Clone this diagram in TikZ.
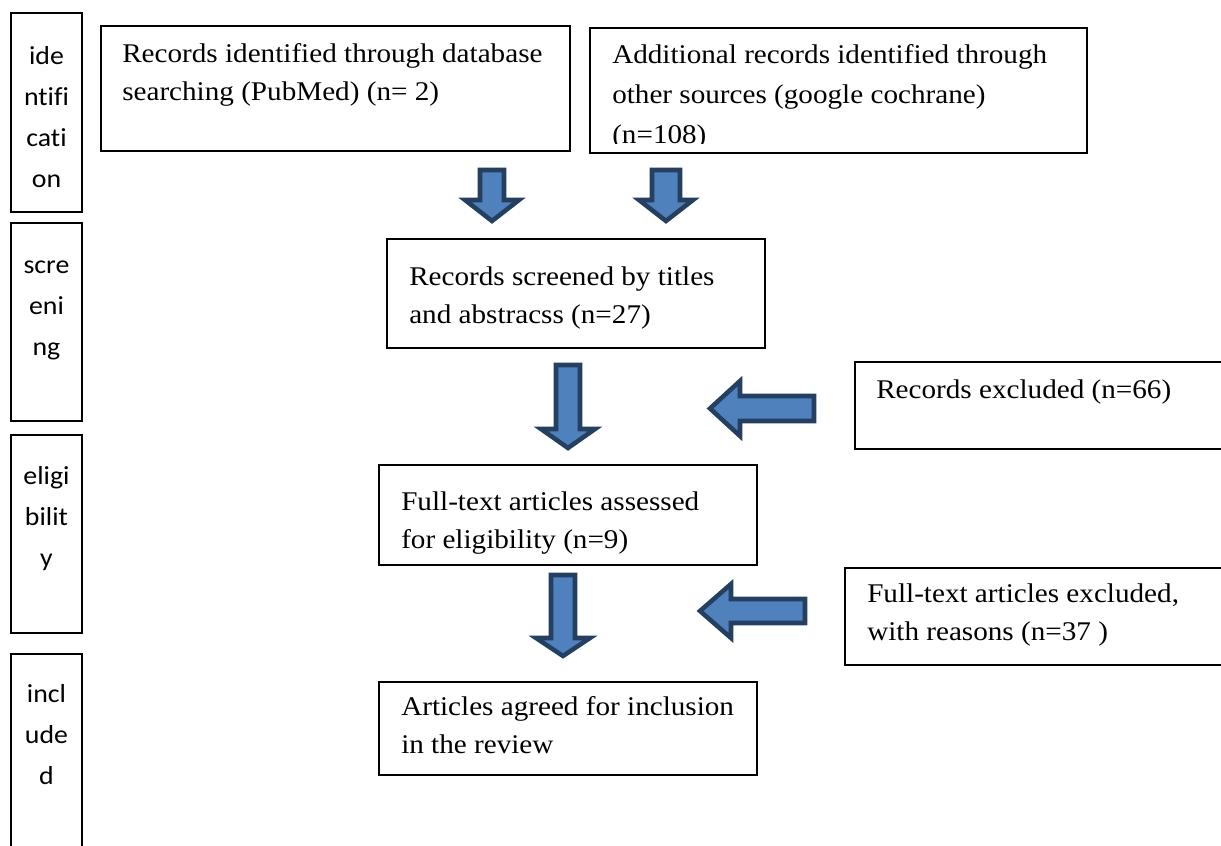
\documentclass[tikz,border=0pt]{standalone}
\usepackage{fontspec}
\setmainfont[FakeStretch=1.08,Ligatures=NoCommon]{Liberation Serif}
\newfontfamily\sidefont[FakeStretch=1.07,Ligatures=NoCommon]{Carlito}
\usetikzlibrary{fit}
\definecolor{arrfill}{HTML}{4F81BD}
\definecolor{arrline}{HTML}{243F60}
\newcommand\fs{\rule{0pt}{18pt}}
\newcommand\dblk[6]{\draw[blockarrow] (#1-#5,#2) -- (#1+#5,#2) -- (#1+#5,#3) -- (#1+#6,#3) -- (#1,#4) -- (#1-#6,#3) -- (#1-#5,#3) -- cycle;}
\newcommand\lblk[6]{\draw[blockarrow] (#2,#1-#5) -- (#2,#1+#5) -- (#3,#1+#5) -- (#3,#1+#6) -- (#4,#1) -- (#3,#1-#6) -- (#3,#1-#5) -- cycle;}
\begin{document}
\begin{tikzpicture}[x=0.75pt,y=-0.75pt,
  box/.style={draw, line width=1.5pt, inner sep=0pt},
  txt/.style={anchor=north west, inner sep=0pt, align=left, font=\fontsize{20.25}{28.5}\selectfont},
  side/.style={anchor=north, inner sep=0pt, align=center, font=\sidefont\fontsize{19.5}{30.8}\selectfont},
  blockarrow/.style={fill=arrfill, draw=arrline, line width=3.4pt, line join=miter}]
\useasboundingbox (0,0) rectangle (1221,846);
\clip (0,0) rectangle (1221,846);
% stage column
\node[box, fit={(11,13) (82,212)}] (sid) {};
\node[box, fit={(11,223) (82,421)}] (ssc) {};
\node[box, fit={(11,435) (82,633)}] (sel) {};
\node[box, fit={(11,654) (82,870)}] (sin) {};
\node[side] (tid) at (46.5,40) {\fs ide\\ntifi\\cati\\on};
\node[side] (tsc) at (46.5,249) {\fs scre\\eni\\ng};
\node[side] (tel) at (46.5,460) {\fs eligi\\bilit\\y};
\node[side] (tin) at (46.5,678) {\fs incl\\ude\\d};
% main boxes
\node[box, fit={(101,26) (570,151)}] (b1) {};
\node[box, fit={(590,28) (1087,153)}] (b2) {};
\node[box, fit={(387,239) (765,348)}] (b3) {};
\node[box, fit={(855,362) (1235,449)}] (b4) {};
\node[box, fit={(379,465) (757,565)}] (b5) {};
\node[box, fit={(845,568) (1235,665)}] (b6) {};
\node[box, fit={(379,682) (757,775)}] (b7) {};
\node[txt] (t1) at (122,38) {\fs Records identified through database\\searching (PubMed) (n= 2)};
\begin{scope}
\clip (592,30) rectangle (1085,143);
\node[txt, font=\fontsize{20.25}{30}\selectfont] (t2) at (612,39) {\fs Additional records identified through\\other sources (google cochrane)\\(n=108)};
\end{scope}
\node[txt] (t3) at (409,261) {\fs Records screened by titles\\and abstracss (n=27)};
\node[txt] (t4) at (876,374) {\fs Records excluded (n=66)};
\node[txt] (t5) at (401,486) {\fs Full-text articles assessed\\for eligibility (n=9)};
\node[txt] (t6) at (867,578) {\fs Full-text articles excluded,\\with reasons (n=37 )};
\node[txt] (t7) at (401,691) {\fs Articles agreed for inclusion\\in the review};
% block arrows
\dblk{492}{170}{200}{221}{12}{27}
\dblk{666}{170}{200}{221}{14}{27}
\dblk{568}{365}{429}{448}{12}{27}
\dblk{563}{575}{638}{656}{12}{27}
\lblk{408.5}{814}{740}{710}{12.5}{27.5}
\lblk{611}{805}{731}{700}{12}{27}
\end{tikzpicture}
\end{document}
